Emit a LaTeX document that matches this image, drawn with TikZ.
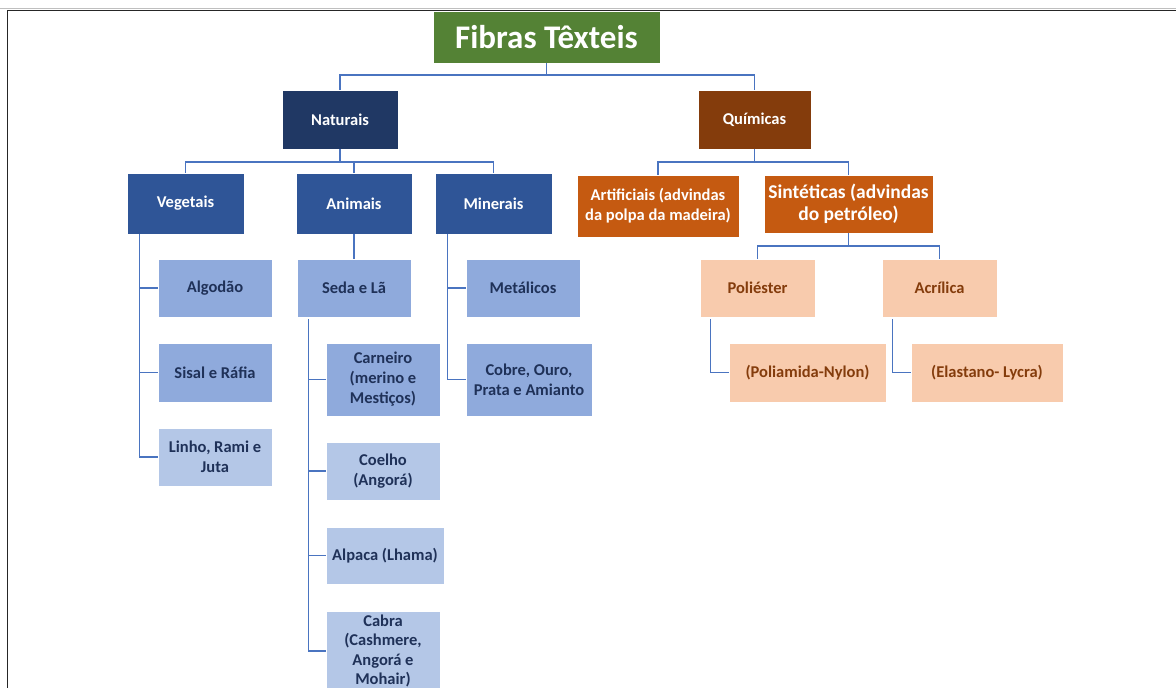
\documentclass[tikz,border=0pt]{standalone}
\usepackage{fontspec}
\setmainfont{Carlito}
\usetikzlibrary{calc}
\definecolor{cgreen}{HTML}{548235}
\definecolor{cnavy}{HTML}{203864}
\definecolor{cblue}{HTML}{2F5597}
\definecolor{cmid}{HTML}{8FAADC}
\definecolor{clight}{HTML}{B4C7E7}
\definecolor{cbrown}{HTML}{843C0C}
\definecolor{corange}{HTML}{C55A11}
\definecolor{cpeach}{HTML}{F8CBAD}
\definecolor{cline}{HTML}{4A74C0}
\definecolor{ctext}{HTML}{1F3158}
\begin{document}
\begin{tikzpicture}[x=1pt,y=-1pt,
  box/.style={rectangle, draw=white, line width=0.6pt, align=center, inner sep=1pt,
    font=\bfseries\fontsize{16.5}{20}\selectfont},
  titlebox/.style={box, fill=cgreen, text=white, font=\bfseries\fontsize{33}{38}\selectfont},
  navybox/.style={box, fill=cnavy, text=white},
  bluebox/.style={box, fill=cblue, text=white},
  midbox/.style={box, fill=cmid, text=ctext},
  lightbox/.style={box, fill=clight, text=ctext},
  brownbox/.style={box, fill=cbrown, text=white},
  orangebox/.style={box, fill=corange, text=white},
  peachbox/.style={box, fill=cpeach, text=cbrown},
  conn/.style={draw=cline, line width=1.4pt}]
\useasboundingbox (0,0) rectangle (1176,688);
\fill[white] (0,0) rectangle (1176,688);
\begin{scope}
\clip (0,0) rectangle (1176,688);
% frame
\draw[black!25, line width=1pt] (0,8) -- (1176,8);
\draw[black!85, line width=1.3pt] (7.5,688) -- (7.5,10.5) -- (1176,10.5);

% nodes
\node[titlebox, minimum width=227, minimum height=52] (fib) at (546.5,37) {Fibras Têxteis};

\node[navybox, minimum width=116, minimum height=59] (nat) at (340,119.5) {Naturais};
\node[brownbox, minimum width=113, minimum height=59] (qui) at (754.5,119.5) {Químicas};

\node[bluebox, minimum width=117, minimum height=61] (veg) at (185.5,203.5) {Vegetais};
\node[bluebox, minimum width=116, minimum height=61] (ani) at (354,203.5) {Animais};
\node[bluebox, minimum width=117, minimum height=61] (min) at (493.5,203.5) {Minerais};

\node[midbox, minimum width=114, minimum height=58] (alg) at (215,288) {Algodão};
\node[midbox, minimum width=114, minimum height=59] (sis) at (215,372.5) {Sisal e Ráfia};
\node[lightbox, minimum width=114, minimum height=58] (lin) at (215,457) {Linho, Rami e\\Juta};

\node[midbox, minimum width=114, minimum height=58] (sed) at (354,288) {Seda e Lã};
\node[midbox, minimum width=114, minimum height=73] (car) at (383,379.5) {Carneiro\\(merino e\\Mestiços)};
\node[lightbox, minimum width=114, minimum height=58] (coe) at (383,471) {Coelho\\(Angorá)};
\node[lightbox, minimum width=118, minimum height=57] (alp) at (385,555.5) {Alpaca (Lhama)};
\node[lightbox, minimum width=114, minimum height=80, font=\bfseries\fontsize{16.5}{19.5}\selectfont] (cab) at (383,651) {Cabra\\(Cashmere,\\Angorá e\\Mohair)};

\node[midbox, minimum width=114, minimum height=58] (met) at (523,288) {Metálicos};
\node[midbox, minimum width=126, minimum height=73] (cob) at (529,379.5) {Cobre, Ouro,\\Prata e Amianto};

\node[orangebox, minimum width=162, minimum height=62] (art) at (658,206) {Artificiais (advindas\\da polpa da madeira)};
\node[orangebox, minimum width=169, minimum height=58, font=\bfseries\fontsize{19.5}{22}\selectfont] (sin) at (848.5,204) {Sintéticas (advindas\\do petróleo)};

\node[peachbox, minimum width=115, minimum height=58] (pol) at (757.5,288) {Poliéster};
\node[peachbox, minimum width=115, minimum height=58] (acr) at (939.5,288) {Acrílica};
\node[peachbox, minimum width=157, minimum height=59] (pam) at (807.5,372.5) {(Poliamida-Nylon)};
\node[peachbox, minimum width=152, minimum height=59] (ela) at (987,372.5) {(Elastano- Lycra)};

% connectors
\coordinate (j1) at (546.5,75);
\draw[conn] (fib.south) -- (j1);
\draw[conn] (nat.north) |- (j1);
\draw[conn] (qui.north) |- (j1);

\coordinate (j2) at (340,162);
\draw[conn] (nat.south) -- (j2);
\draw[conn] (veg.north) |- (j2);
\draw[conn] (ani.north) |- (j2);
\draw[conn] (min.north) |- (j2);

\coordinate (v1) at ($(veg.south west)+(13,0)$);
\draw[conn] (v1) |- (alg.west);
\draw[conn] (v1) |- (sis.west);
\draw[conn] (v1) |- (lin.west);

\draw[conn] (ani.south) -- (sed.north);
\coordinate (s1) at ($(sed.south west)+(12,2)$);
\draw[conn] (s1) |- (car.west);
\draw[conn] (s1) |- (coe.west);
\draw[conn] (s1) |- (alp.west);
\draw[conn] (s1) |- (cab.west);

\coordinate (m1) at ($(min.south west)+(13,0)$);
\draw[conn] (m1) |- (met.west);
\draw[conn] (m1) |- (cob.west);

\coordinate (j3) at (754.5,162);
\draw[conn] (qui.south) -- (j3);
\draw[conn] (art.north) |- (j3);
\draw[conn] (sin.north) |- (j3);

\coordinate (j4) at (848.5,246);
\draw[conn] (sin.south) -- (j4);
\draw[conn] (pol.north) |- (j4);
\draw[conn] (acr.north) |- (j4);

\coordinate (p1) at ($(pol.south west)+(11,2)$);
\draw[conn] (p1) |- (pam.west);
\coordinate (a1) at ($(acr.south west)+(11,2)$);
\draw[conn] (a1) |- (ela.west);
\end{scope}
\end{tikzpicture}
\end{document}
